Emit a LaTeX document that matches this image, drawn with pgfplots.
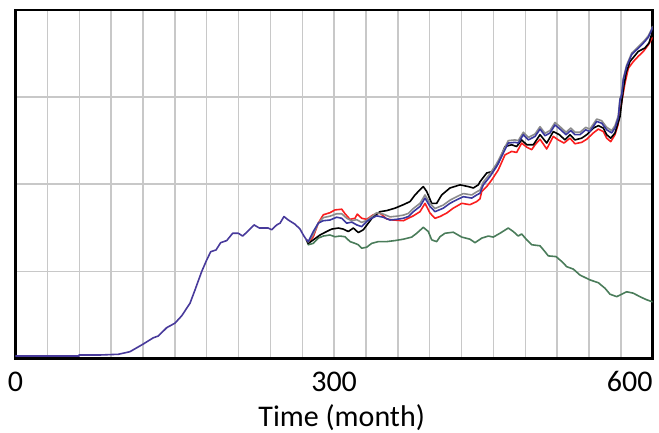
\documentclass[border=0pt]{standalone}
\usepackage{pgfplots}
\pgfplotsset{compat=1.18}
\usepackage{fontspec}
\setmainfont{Carlito}
\definecolor{vblue}{RGB}{58,56,158}
\definecolor{vred}{RGB}{250,30,30}
\definecolor{vgray}{RGB}{140,140,140}
\definecolor{vgreen}{RGB}{74,124,90}
\definecolor{vshared}{RGB}{72,58,155}
\definecolor{gridc}{RGB}{200,200,200}
\begin{document}
\begin{tikzpicture}
\begin{axis}[
  at={(0,0)}, anchor=south west,
  scale only axis, width=637.2bp, height=348.3bp,
  xmin=0, xmax=600, ymin=0, ymax=100,
  xtick={0,300,600}, minor xtick={30,60,...,570},
  ytick={25,50,75},
  xticklabels={}, yticklabels={},
  major tick length=0pt, minor tick length=0pt,
  grid=both,
  major grid style={draw=gridc, line width=1.4bp},
  minor grid style={draw=gridc, line width=1.4bp},
  axis line style={line width=2.6bp, black},
  every axis plot/.append style={line width=1.6bp, line join=round, mark=none},
]
% green
\addplot[vgreen] coordinates {
(274.0,34.0)(275.7,32.6)(280.4,33.0)(285.1,34.5)(289.8,35.1)(296.1,35.4)(300.8,34.9)(305.6,35.1)(310.3,34.9)(315.0,33.5)(319.7,33.0)(322.8,32.6)(326.0,31.6)(330.7,31.9)(335.4,33.0)(341.6,33.5)(349.5,33.5)(357.3,33.8)(365.2,34.2)(373.1,34.8)(377.8,35.9)(384.0,37.6)(388.7,36.4)(391.9,34.0)(396.6,33.5)(399.7,34.9)(404.4,35.9)(412.2,36.2)(420.2,34.8)(427.9,34.2)(432.7,33.2)(439.0,34.5)(445.2,35.1)(449.9,34.8)(456.2,35.9)(464.0,37.4)(468.7,36.4)(473.4,35.1)(476.6,35.7)(481.4,34.0)(486.1,32.6)(493.9,32.3)(498.6,30.6)(501.7,29.4)(509.0,29.2)(514.3,27.8)(519.1,26.3)(525.3,25.6)(531.5,23.9)(541.0,22.5)(548.8,21.7)(555.1,20.1)(559.8,18.4)(566.1,17.7)(575.5,19.1)(581.7,18.7)(587.9,17.7)(594.3,16.8)(600,16.2)};
% red
\addplot[vred] coordinates {
(274.0,34.0)(275.7,33.2)(280.4,34.9)(285.1,38.8)(289.8,41.2)(296.1,41.8)(300.8,42.6)(307.2,42.8)(310.3,41.5)(315.0,39.9)(319.7,40.2)(321.8,41.4)(326.0,40.2)(330.7,39.9)(336.9,41.2)(343.2,41.7)(349.5,40.0)(355.7,39.7)(365.2,39.5)(369.9,40.2)(374.6,40.9)(380.9,42.1)(385.6,44.5)(390.3,41.7)(395.0,40.2)(399.7,40.7)(406.0,41.7)(412.2,43.1)(420.2,44.5)(427.9,44.1)(434.3,45.0)(437.4,45.8)(439.0,47.9)(443.7,49.3)(448.4,51.2)(454.6,54.1)(460.9,58.4)(467.2,59.4)(471.9,59.1)(476.6,61.8)(481.4,60.6)(486.1,59.9)(489.2,61.3)(493.9,62.9)(500.2,60.1)(506.4,63.7)(511.1,62.7)(516.5,61.8)(522.1,63.2)(526.8,61.6)(533.1,62.0)(537.9,62.9)(544.1,64.7)(548.8,65.8)(553.5,65.1)(556.7,63.2)(560.5,62.2)(564.5,64.2)(567.3,67.0)(570.2,72.5)(573.9,79.0)(577.1,83.3)(581.8,85.2)(586.4,86.7)(591.2,88.1)(595.9,90.0)(600,92.2)};
% black
\addplot[black] coordinates {
(274.0,34.0)(275.7,33.0)(280.4,34.0)(286.7,35.4)(293.0,36.4)(297.7,37.1)(304.0,37.4)(308.6,37.1)(313.4,36.4)(318.1,37.4)(322.8,36.1)(327.5,36.9)(332.2,38.8)(336.9,40.7)(343.2,42.1)(349.5,42.4)(357.3,43.1)(365.2,44.1)(371.5,45.0)(376.2,46.9)(380.9,48.4)(384.0,49.3)(387.2,47.9)(391.9,44.5)(396.6,44.5)(401.3,46.9)(409.1,48.9)(418.6,49.8)(426.4,49.3)(431.1,48.9)(435.8,49.8)(437.4,50.7)(443.7,53.2)(448.4,53.6)(454.6,56.0)(460.9,60.8)(467.2,61.3)(471.9,60.8)(476.6,62.7)(481.4,61.3)(487.6,61.3)(493.9,64.2)(500.2,61.8)(506.4,65.1)(512.1,64.2)(517.4,62.7)(522.1,64.2)(526.8,62.7)(533.1,63.2)(537.9,64.2)(544.1,66.1)(548.8,66.8)(553.5,66.1)(556.7,64.2)(560.5,63.2)(564.5,64.7)(569.2,69.4)(571.1,74.2)(572.5,77.7)(575.0,82.0)(578.6,85.2)(586.4,88.1)(592.7,89.1)(596.5,90.5)(600,94.0)};
% gray
\addplot[vgray] coordinates {
(274.0,34.0)(275.7,33.4)(280.4,35.6)(285.1,38.8)(289.8,40.4)(296.1,40.8)(302.4,41.5)(307.2,41.5)(311.9,40.2)(316.6,39.5)(321.3,39.8)(326.0,39.0)(330.7,39.6)(335.4,40.7)(340.1,41.8)(346.3,41.4)(352.6,40.6)(358.9,40.8)(365.2,41.1)(369.9,41.6)(374.6,43.0)(380.9,44.5)(385.6,46.9)(390.3,44.5)(395.0,43.0)(402.8,44.0)(409.1,45.4)(415.4,46.4)(421.7,47.3)(429.6,46.9)(434.3,47.8)(437.4,48.3)(440.5,50.6)(446.8,53.0)(453.1,55.9)(459.3,59.6)(464.0,62.5)(470.3,62.7)(473.4,62.5)(478.2,64.9)(482.9,63.4)(489.2,64.4)(493.9,66.5)(498.6,64.6)(503.3,65.4)(508.0,67.7)(512.7,66.5)(518.4,64.9)(522.8,66.1)(526.8,64.9)(531.5,64.9)(536.9,66.3)(540.9,65.8)(547.3,68.7)(552.0,68.2)(556.7,66.3)(561.4,65.4)(564.5,66.8)(567.6,69.6)(569.2,74.6)(570.8,76.0)(572.3,80.3)(575.5,84.2)(580.2,87.6)(584.9,89.0)(589.6,90.4)(592.7,91.4)(595.9,92.6)(599.1,94.6)(600,95.4)};
% blue
\addplot[vblue] coordinates {
(274.0,34.0)(275.7,33.5)(280.4,36.4)(285.1,38.8)(289.8,39.5)(296.1,39.7)(302.4,40.5)(307.2,40.2)(311.9,38.8)(316.6,39.1)(321.3,38.3)(326.0,37.8)(330.7,39.3)(335.4,40.2)(340.1,40.9)(346.3,40.5)(352.6,39.7)(358.9,39.9)(365.2,40.2)(369.9,40.7)(374.6,42.1)(380.9,43.6)(385.6,46.0)(390.3,43.6)(395.0,42.1)(402.8,43.1)(409.1,44.5)(415.4,45.5)(421.7,46.4)(429.6,46.0)(434.3,46.9)(437.4,47.4)(440.5,49.8)(446.8,52.2)(453.1,55.1)(459.3,58.9)(464.0,61.8)(470.3,62.0)(473.4,61.8)(478.2,64.2)(482.9,62.7)(489.2,63.7)(493.9,65.8)(498.6,63.9)(503.3,64.7)(508.0,67.0)(512.7,65.8)(518.4,64.2)(522.8,65.4)(526.8,64.2)(531.5,64.2)(536.9,65.6)(540.9,65.1)(547.3,68.0)(552.0,67.5)(556.7,65.6)(561.4,64.7)(564.5,66.1)(567.6,69.0)(569.2,74.2)(570.8,75.6)(572.3,79.9)(575.5,83.8)(580.2,87.2)(584.9,88.6)(589.6,90.0)(592.7,91.0)(595.9,92.2)(599.1,94.3)(600,95.2)};
% shared early segment
\addplot[vshared] coordinates {
(0,0.66)(59.8,0.66)(59.8,0.95)(79.6,0.95)(96.8,1.15)(107.8,1.9)(120.3,4.1)(129.8,5.9)(134.5,6.4)(142.4,8.8)(150.2,10.1)(156.5,12.2)(164.3,15.8)(169.0,19.6)(175.3,24.9)(180.0,28.2)(183.8,30.6)(188.8,31.1)(193.2,33.2)(198.9,33.8)(204.5,35.9)(209.8,35.9)(213.9,35.1)(219.2,36.6)(224.6,38.3)(229.6,37.4)(238.0,37.4)(241.2,36.9)(246.0,38.3)(249.1,38.8)(252.8,40.7)(256.9,39.7)(263.2,38.5)(267.9,37.1)(271.0,35.4)(274.0,34.0)};
\end{axis}
\begin{scope}[every node/.style={inner sep=0pt, font=\fontsize{30bp}{36bp}\selectfont}]
\node[anchor=base] at (0,-33.4bp) {0};
\node[anchor=base] at (318.6bp,-33.4bp) {300};
\node[anchor=base east] at (637.2bp,-33.4bp) {600};
\node[anchor=base] at (326.2bp,-68.5bp) {Time (month)};
\end{scope}
\pgfresetboundingbox
\useasboundingbox (-15.5bp,-74.7bp) rectangle (643.5bp,358.3bp);
\end{tikzpicture}
\end{document}
